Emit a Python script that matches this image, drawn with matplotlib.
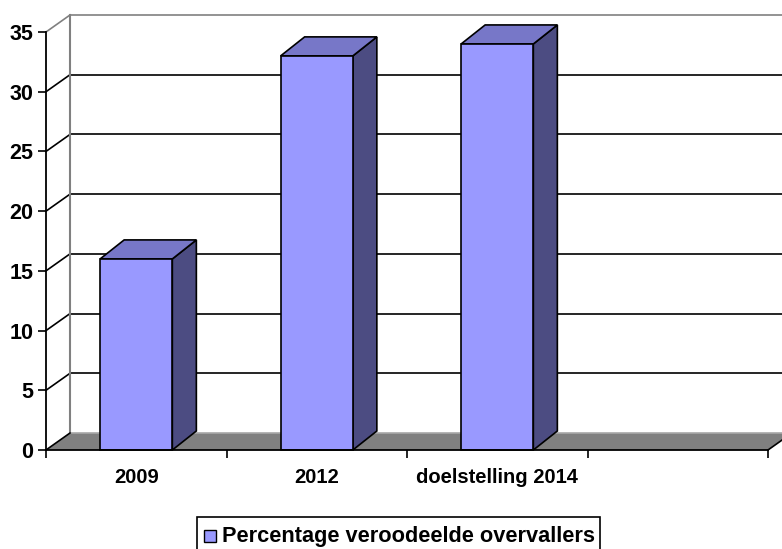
import matplotlib
matplotlib.use("Agg")
import matplotlib.pyplot as plt
from matplotlib.patches import Polygon, Rectangle

categories = ["2009", "2012", "doelstelling 2014", ""]
values = [16, 33, 34]
series_name = "Percentage veroodeelde overvallers"
yticks = [0, 5, 10, 15, 20, 25, 30, 35]

plt.rcParams['font.family'] = ['Liberation Sans', 'DejaVu Sans']

W, H, DPI = 782, 549, 100
fig = plt.figure(figsize=(W / DPI, H / DPI), dpi=DPI)
L, R, B, T = 46, 768, 450, 32  # pixel box of front plane
ax = fig.add_axes([L / W, (H - B) / H, (R - L) / W, (B - T) / H])
ax.set_xlim(0, len(categories))
ax.set_ylim(0, 35)

# depth offsets converted to data units
px_x = len(categories) / (R - L)
px_y = 35 / (B - T)
wall_dx, wall_dy = 24 * px_x, 17 * px_y
bar_dx, bar_dy = 24 * px_x, 19 * px_y

front_col = '#9999FF'
top_col = '#7777C8'
side_col = '#4C4C82'
grey_line = '#808080'

n = len(categories)
# back wall gridlines and side wall diagonals
for yv in yticks[1:]:
    c = grey_line if yv == 35 else 'black'
    ax.plot([wall_dx, n + wall_dx], [yv + wall_dy, yv + wall_dy], color=c, lw=1.2, clip_on=False, zorder=1)
    ax.plot([0, wall_dx], [yv, yv + wall_dy], color=c, lw=1.2, clip_on=False, zorder=1)
# back wall left vertical edge
ax.plot([wall_dx, wall_dx], [wall_dy, 35 + wall_dy], color=grey_line, lw=1.5, clip_on=False, zorder=1)

# floor
floor = Polygon([[0, 0], [n, 0], [n + wall_dx, wall_dy], [wall_dx, wall_dy]], closed=True,
                facecolor='#808080', edgecolor='none', clip_on=False, zorder=2)
ax.add_patch(floor)
ax.plot([wall_dx, n + wall_dx], [wall_dy, wall_dy], color='#A8A8A8', lw=1.2, clip_on=False, zorder=2)
ax.plot([0, wall_dx], [0, wall_dy], color='black', lw=1.2, clip_on=False, zorder=2)
ax.plot([n, n + wall_dx], [0, wall_dy], color='black', lw=1.2, clip_on=False, zorder=2)

# bars
for i, v in enumerate(values):
    x0, x1 = i + 0.3, i + 0.7
    side = Polygon([[x1, 0], [x1 + bar_dx, bar_dy], [x1 + bar_dx, v + bar_dy], [x1, v]],
                   closed=True, facecolor=side_col, edgecolor='black', lw=1.2, zorder=3, clip_on=False)
    top = Polygon([[x0, v], [x1, v], [x1 + bar_dx, v + bar_dy], [x0 + bar_dx, v + bar_dy]],
                  closed=True, facecolor=top_col, edgecolor='black', lw=1.2, zorder=3, clip_on=False)
    front = Rectangle((x0, 0), x1 - x0, v, facecolor=front_col, edgecolor='black', lw=1.2, zorder=4, clip_on=False)
    ax.add_patch(side)
    ax.add_patch(top)
    ax.add_patch(front)

for s in ['top', 'right']:
    ax.spines[s].set_visible(False)
for s in ['left', 'bottom']:
    ax.spines[s].set_color('black')
    ax.spines[s].set_linewidth(1.3)
    ax.spines[s].set_zorder(5)

ax.set_yticks(yticks)
ax.set_yticklabels([str(t) for t in yticks], fontsize=15.5, fontweight='bold')
ax.tick_params(axis='y', length=6, width=1.2, pad=3, direction='out')
ax.set_xticks(range(n + 1))
ax.set_xticklabels([''] * (n + 1))
ax.tick_params(axis='x', which='major', length=6, width=1.2, direction='out')
ax.set_xticks([i + 0.5 for i in range(n)], minor=True)
ax.set_xticklabels(categories, minor=True, fontsize=14.5, fontweight='bold')
ax.tick_params(axis='x', which='minor', length=0, pad=13)
ax.set_facecolor('none')

# legend box
lx0, ly0, lx1, ly1 = 197, 517, 600, 556
fig.patches.append(Rectangle((lx0 / W, 1 - ly1 / H), (lx1 - lx0) / W, (ly1 - ly0) / H,
                             transform=fig.transFigure, facecolor='white', edgecolor='black', lw=1.2))
fig.patches.append(Rectangle((204 / W, 1 - 542 / H), 12 / W, 12 / H,
                             transform=fig.transFigure, facecolor=front_col, edgecolor='black', lw=1.0))
fig.text(222 / W, 1 - 542 / H, series_name, fontsize=15.7, fontweight='bold', va='baseline', ha='left')

fig.savefig('out.png', dpi=DPI)
